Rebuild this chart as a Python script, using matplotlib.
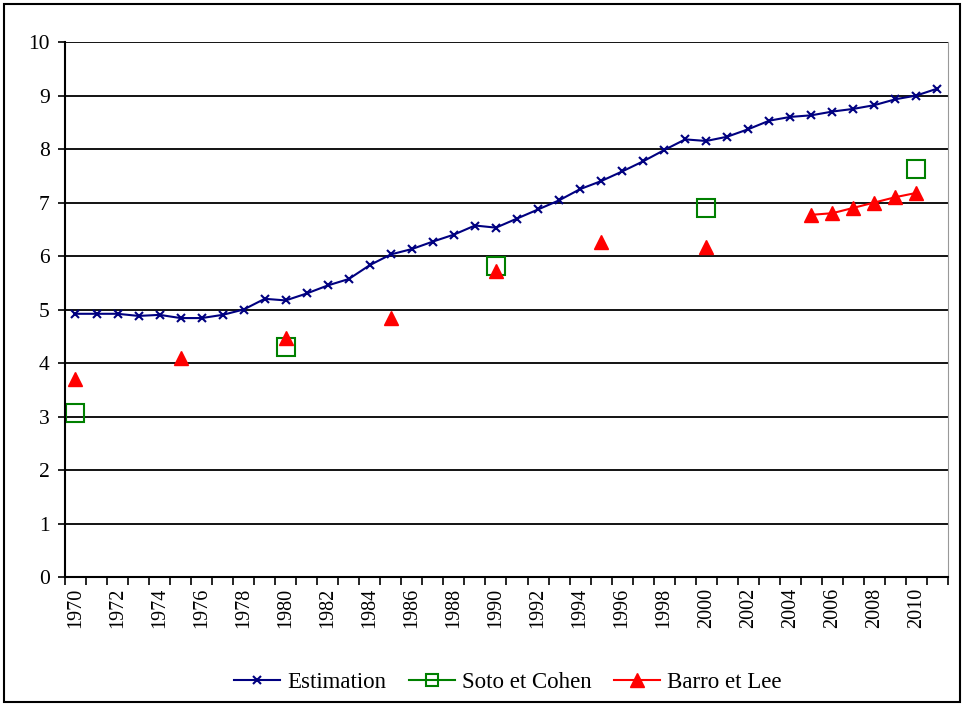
import numpy as np
import matplotlib
matplotlib.use('Agg')
import matplotlib.pyplot as plt
from matplotlib.patches import Rectangle

plt.rcParams['font.family'] = ['Liberation Serif', 'DejaVu Serif']

# data
years = list(range(1970, 2012))
estimation = [4.92, 4.92, 4.92, 4.88, 4.90, 4.84, 4.84, 4.90, 5.00, 5.20,
              5.17, 5.30, 5.45, 5.57, 5.83, 6.03, 6.13, 6.27, 6.40, 6.57,
              6.53, 6.70, 6.87, 7.04, 7.25, 7.40, 7.58, 7.77, 7.98, 8.18,
              8.15, 8.23, 8.37, 8.53, 8.60, 8.63, 8.70, 8.75, 8.82, 8.93,
              9.00, 9.13]
soto_years = [1970, 1980, 1990, 2000, 2010]
soto_vals = [3.07, 4.30, 5.81, 6.90, 7.63]
barro_years = [1970, 1975, 1980, 1985, 1990, 1995, 2000,
               2005, 2006, 2007, 2008, 2009, 2010]
barro_vals = [3.70, 4.10, 4.47, 4.84, 5.72, 6.26, 6.17,
              6.77, 6.80, 6.90, 7.00, 7.10, 7.18]

# put series on the category axis, gaps as NaN
x = np.arange(len(years))
soto = np.full(len(years), np.nan)
for yr, v in zip(soto_years, soto_vals):
    soto[years.index(yr)] = v
barro = np.full(len(years), np.nan)
for yr, v in zip(barro_years, barro_vals):
    barro[years.index(yr)] = v

fig = plt.figure(figsize=(9.64, 7.06), dpi=100)
ax = fig.add_axes([0.0674, 0.1827, 0.916, 0.7578])

for yv in range(1, 11):
    ax.axhline(yv, color='black', lw=1.3, zorder=0)

ax.plot(x, estimation, '-x', color='#000080', lw=1.5, ms=6, mew=1.5, label='Estimation')
ax.plot(x, soto, 's', color='#008000', ms=13, mfc='none', mew=1.5, label='Soto et Cohen')
ax.plot(x, barro, '-^', color='#FF0000', lw=1.5, ms=10, label='Barro et Lee')

ax.set_xlim(-0.5, len(years) - 0.5)
ax.set_ylim(0, 10)
ax.set_yticks(range(0, 11))
ax.tick_params(axis='y', labelsize=15.5, direction='out', length=5, width=1.2, pad=6)

ax.set_xticks(x[::2])
ax.set_xticklabels([str(y) for y in years[::2]], rotation=90)
ax.set_xticks(np.arange(-0.5, len(years)), minor=True)
ax.tick_params(axis='x', which='major', length=0, labelsize=14.5, pad=8)
ax.tick_params(axis='x', which='minor', length=6, width=1.2, direction='out')

ax.spines['top'].set_visible(False)
ax.spines['right'].set_color('#999999')
ax.spines['left'].set_linewidth(1.5)
ax.spines['bottom'].set_linewidth(1.5)

h, l = ax.get_legend_handles_labels()
h[1] = plt.Line2D([], [], color='#008000', lw=1.5, marker='s', ms=9, mfc='none', mew=1.5)
ax.legend(h, l, loc='center', bbox_to_anchor=(0.527, 0.033), bbox_transform=fig.transFigure,
          ncol=3, frameon=False, fontsize=16.5, handlelength=2.0, columnspacing=1.0,
          handletextpad=0.3)

fig.patches.append(Rectangle((0.004, 0.006), 0.992, 0.988, transform=fig.transFigure,
                             fill=False, edgecolor='black', lw=1.5))

plt.savefig('out.png', dpi=100)
